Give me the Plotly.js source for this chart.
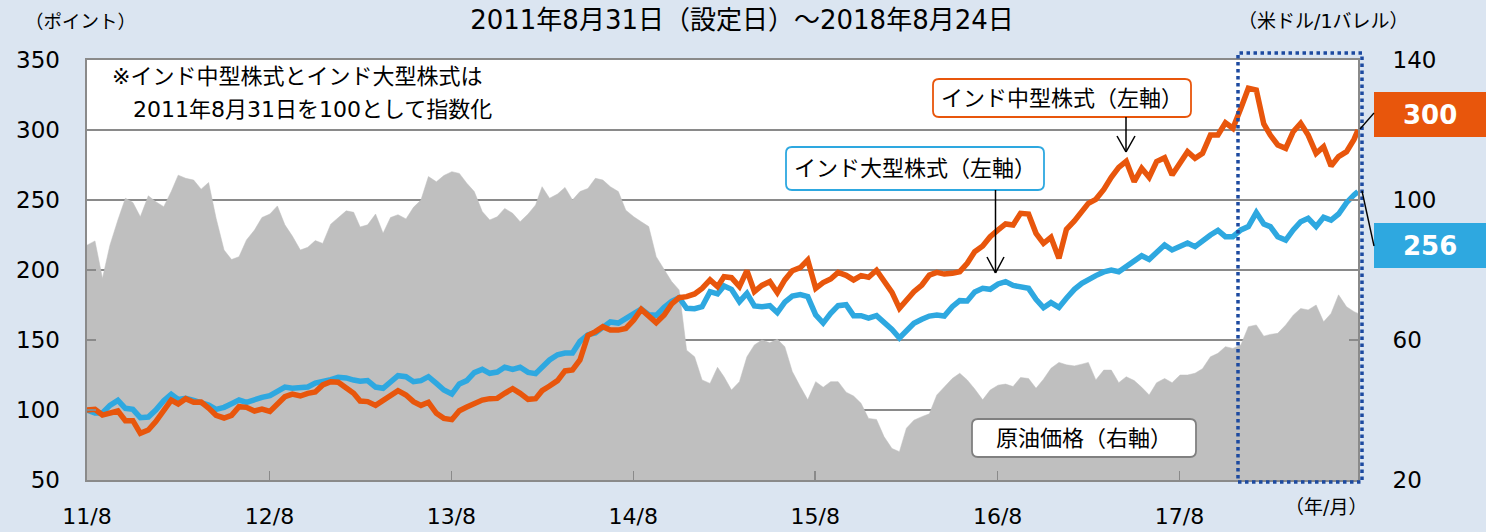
<!DOCTYPE html>
<html>
<head>
<meta charset="utf-8">
<script src="https://cdn.plot.ly/plotly-3.0.1.min.js"></script>
<style>html,body{margin:0;padding:0;background:#dbe5f1;}#chart{width:1486px;height:532px;}</style>
</head>
<body>
<div id="chart"></div>
<script>
// Semi-monthly observation dates (x categories)
const dates = [
"2011-08-31","2011-09-16","2011-10-01","2011-10-16","2011-11-01","2011-11-16","2011-12-01","2011-12-16",
"2012-01-01","2012-01-16","2012-02-01","2012-02-16","2012-03-01","2012-03-16","2012-04-01","2012-04-16","2012-05-01","2012-05-16","2012-06-01","2012-06-16","2012-07-01","2012-07-16","2012-08-01","2012-08-16","2012-09-01","2012-09-16","2012-10-01","2012-10-16","2012-11-01","2012-11-16","2012-12-01","2012-12-16",
"2013-01-01","2013-01-16","2013-02-01","2013-02-16","2013-03-01","2013-03-16","2013-04-01","2013-04-16","2013-05-01","2013-05-16","2013-06-01","2013-06-16","2013-07-01","2013-07-16","2013-08-01","2013-08-16","2013-09-01","2013-09-16","2013-10-01","2013-10-16","2013-11-01","2013-11-16","2013-12-01","2013-12-16",
"2014-01-01","2014-01-16","2014-02-01","2014-02-16","2014-03-01","2014-03-16","2014-04-01","2014-04-16","2014-05-01","2014-05-16","2014-06-01","2014-06-16","2014-07-01","2014-07-16","2014-08-01","2014-08-16","2014-09-01","2014-09-16","2014-10-01","2014-10-16","2014-11-01","2014-11-16","2014-12-01","2014-12-16",
"2015-01-01","2015-01-16","2015-02-01","2015-02-16","2015-03-01","2015-03-16","2015-04-01","2015-04-16","2015-05-01","2015-05-16","2015-06-01","2015-06-16","2015-07-01","2015-07-16","2015-08-01","2015-08-16","2015-09-01","2015-09-16","2015-10-01","2015-10-16","2015-11-01","2015-11-16","2015-12-01","2015-12-16",
"2016-01-01","2016-01-16","2016-02-01","2016-02-16","2016-03-01","2016-03-16","2016-04-01","2016-04-16","2016-05-01","2016-05-16","2016-06-01","2016-06-16","2016-07-01","2016-07-16","2016-08-01","2016-08-16","2016-09-01","2016-09-16","2016-10-01","2016-10-16","2016-11-01","2016-11-16","2016-12-01","2016-12-16",
"2017-01-01","2017-01-16","2017-02-01","2017-02-16","2017-03-01","2017-03-16","2017-04-01","2017-04-16","2017-05-01","2017-05-16","2017-06-01","2017-06-16","2017-07-01","2017-07-16","2017-08-01","2017-08-16","2017-09-01","2017-09-16","2017-10-01","2017-10-16","2017-11-01","2017-11-16","2017-12-01","2017-12-16",
"2018-01-01","2018-01-16","2018-02-01","2018-02-16","2018-03-01","2018-03-16","2018-04-01","2018-04-16","2018-05-01","2018-05-16","2018-06-01","2018-06-16","2018-07-01","2018-07-16","2018-08-01","2018-08-16","2018-08-24"
];

// インド中型株式 (index, left axis)
const midCap = [
100,100.5,96.4,97.4,99.3,92.4,92.4,83.3,85.7,91.7,99.5,107.1,104.3,108.1,105.5,105.7,101.4,96.2,94.3,96.2,
102.4,101.9,99.3,100.7,99.0,104.3,109.5,111.4,110.0,111.9,112.9,117.9,120.2,119.8,116.0,111.9,106.4,106.0,103.3,106.7,
110.7,113.8,110.7,106.0,103.3,105.5,97.6,94.0,93.1,99.5,102.1,105.0,107.1,108.1,108.3,111.9,115.2,111.9,107.6,108.1,
113.8,117.1,121.0,127.9,128.6,135.7,153.3,156.0,159.5,157.1,157.1,158.3,164.3,171.9,166.7,162.4,167.9,175.7,180.2,181.0,
182.9,186.9,192.9,188.1,195.2,194.5,188.1,199.5,184.5,189.0,191.7,183.8,192.9,199.5,201.7,207.1,186.9,191.0,193.6,198.3,
196.2,192.9,196.0,194.8,199.8,192.9,184.0,172.6,178.6,184.5,189.3,196.4,198.3,197.1,197.6,198.8,204.8,213.1,217.1,223.8,
228.6,232.9,232.1,240.5,240.0,226.2,219.0,223.3,208.3,229.0,235.0,241.7,247.6,250.5,257.6,266.2,273.3,277.6,263.1,272.6,
266.2,277.4,280.2,267.9,277.4,284.5,279.8,283.3,296.4,296.4,305.2,301.2,315.5,329.8,328.6,304.3,296.4,289.3,286.9,298.8,
304.8,296.4,283.3,288.1,274.3,281.0,284.5,293.3,300.0
];

// インド大型株式 (index, left axis)
const largeCap = [
100,97.9,97.9,103.3,106.9,101.2,100.5,94.5,95.0,100.0,106.7,111.2,107.6,108.3,106.9,105.5,103.6,100.5,101.9,104.5,
107.1,105.5,107.6,109.0,110.2,113.8,116.4,115.5,115.5,116.4,119.3,120.2,121.7,123.3,122.9,121.4,120.5,121.0,116.4,115.5,
119.8,124.5,123.8,120.2,121.0,123.8,119.0,114.3,111.4,118.6,121.0,126.7,129.0,126.2,127.1,130.5,129.0,130.5,126.9,126.0,
130.5,135.7,139.5,140.7,140.7,149.0,153.8,155.0,159.0,162.9,162.1,165.2,169.0,172.1,168.1,167.6,173.3,177.6,180.2,172.6,
172.4,173.8,184.5,182.9,188.6,186.2,177.4,183.3,174.3,173.8,174.5,169.5,177.1,181.4,182.4,181.0,167.9,162.1,169.0,174.5,
175.2,167.4,167.4,165.7,167.4,163.1,157.6,151.4,155.9,161.9,164.8,167.1,167.9,167.1,173.8,178.1,177.9,184.3,186.9,186.2,
190.0,191.7,189.0,188.1,186.9,179.0,173.1,176.7,173.3,179.8,186.2,190.5,193.6,196.0,198.6,200.0,198.8,202.9,207.1,210.2,
207.6,213.1,217.9,214.3,216.7,219.3,216.7,221.0,225.0,228.3,223.8,223.8,228.6,231.0,241.0,232.9,231.0,223.8,221.4,228.6,
234.5,236.9,231.0,237.6,235.7,240.0,248.1,253.6,256.0
];

// 原油価格 (US$/barrel, right axis)
const oil = [
87.1,88.3,77.6,87.1,94.3,100.5,99.3,95.2,101.2,99.5,98.1,102.4,107.1,106.2,105.7,103.1,105.0,94.8,85.7,83.0,
83.8,88.6,91.4,95.0,96.0,98.3,92.9,89.7,85.7,86.5,88.4,87.6,93.1,95.0,96.9,96.5,92.3,92.9,96.0,90.5,
95.0,95.8,94.6,97.9,100.0,106.7,105.2,107.0,108.1,107.6,104.8,102.4,96.7,94.3,95.2,97.6,96.2,93.8,96.0,98.6,
103.8,100.5,101.7,103.6,100.0,102.4,103.3,106.2,105.7,103.8,102.4,97.1,95.2,93.8,92.4,83.8,80.0,76.7,74.3,57.1,
55.2,48.6,47.6,52.2,49.5,45.7,48.1,55.2,58.6,60.0,59.2,60.2,58.1,51.0,46.7,42.9,48.1,46.5,48.1,48.1,
45.1,44.0,41.9,37.6,37.3,32.4,29.0,28.1,34.8,37.1,38.1,38.9,44.3,46.7,49.0,50.5,48.6,46.0,42.9,45.7,
47.1,47.4,46.7,49.3,49.0,46.2,48.8,51.9,53.6,52.9,52.6,53.1,53.6,48.6,51.4,51.4,47.8,49.5,48.4,46.5,
44.3,47.8,49.0,47.8,50.0,50.0,50.5,51.8,55.2,56.2,58.1,57.6,58.6,63.8,64.3,61.1,61.6,61.9,64.3,67.1,
69.0,68.6,70.0,65.2,67.6,72.9,69.5,68.1,67.6
];

const xTickVals = ["2011-08-31","2012-08-31","2013-08-31","2014-08-31","2015-08-31","2016-08-31","2017-08-31"];
const xTickText = ["11/8","12/8","13/8","14/8","15/8","16/8","17/8"];
const leftTicks = [50,100,150,200,250,300,350];
const rightTicks = [20,60,100,140];
const lastMid = "300";
const lastLarge = "256";

const FONT = "DejaVu Sans, Noto Sans CJK JP, sans-serif";
const ORANGE = "#e8560c", BLUE = "#2ea8e0", GREY = "#bfbfbf", AXIS = "#8a8a8a";

// pixel -> paper helpers for decorations (plot area 87..1358 x 60..480)
const L = 87, R = 1358, T = 60, B = 480;
const px = x => (x - L) / (R - L);
const py = y => (B - y) / (B - T);

function roundRect(x0, y0, x1, y1, r) {
  const P = (x, y) => px(x).toFixed(5) + "," + py(y).toFixed(5);
  return "M" + P(x0 + r, y0) + " L" + P(x1 - r, y0) + " Q" + P(x1, y0) + " " + P(x1, y0 + r) +
    " L" + P(x1, y1 - r) + " Q" + P(x1, y1) + " " + P(x1 - r, y1) +
    " L" + P(x0 + r, y1) + " Q" + P(x0, y1) + " " + P(x0, y1 - r) +
    " L" + P(x0, y0 + r) + " Q" + P(x0, y0) + " " + P(x0 + r, y0) + " Z";
}
function seg(x0, y0, x1, y1, color, w) {
  return {type: "line", xref: "paper", yref: "paper", x0: px(x0), y0: py(y0), x1: px(x1), y1: py(y1),
    line: {color: color, width: w}, layer: "above"};
}
function txt(text, x, y, size, opts) {
  return Object.assign({text: text, xref: "paper", yref: "paper", x: px(x), y: py(y), showarrow: false,
    font: {family: FONT, size: size, color: "#000"}, xanchor: "center", yanchor: "middle"}, opts || {});
}

// base subplot (y) = oil on the right; overlay (y2) = indices on the left, drawn above the area
const traces = [
  {x: dates, y: oil, yaxis: "y", type: "scatter", mode: "lines", fill: "tozeroy",
   fillcolor: GREY, line: {color: GREY, width: 0.5}, name: "原油価格"},
  {x: dates, y: largeCap, yaxis: "y2", type: "scatter", mode: "lines", line: {color: BLUE, width: 5.5}, name: "インド大型株式"},
  {x: dates, y: midCap, yaxis: "y2", type: "scatter", mode: "lines", line: {color: ORANGE, width: 5.5}, name: "インド中型株式"}
];

const shapes = [
  {type: "path", xref: "paper", yref: "paper", path: roundRect(933, 79, 1191, 117, 6), fillcolor: "#fff", line: {color: ORANGE, width: 1.8}, layer: "above"},
  {type: "path", xref: "paper", yref: "paper", path: roundRect(786, 147, 1044, 190, 6), fillcolor: "#fff", line: {color: BLUE, width: 1.8}, layer: "above"},
  {type: "path", xref: "paper", yref: "paper", path: roundRect(972, 419, 1196, 457, 6), fillcolor: "#fff", line: {color: "#808080", width: 1.8}, layer: "above"},
  seg(1126, 117, 1126, 152, "#000", 1.5),
  seg(1117, 136, 1126, 152, "#000", 1.5),
  seg(1135, 136, 1126, 152, "#000", 1.5),
  seg(995.5, 190, 995.5, 273, "#000", 1.5),
  seg(987, 257, 995.5, 273, "#000", 1.5),
  seg(1004, 257, 995.5, 273, "#000", 1.5),
  {type: "rect", xref: "paper", yref: "paper", x0: px(1238), x1: px(1362), y0: py(482), y1: py(53),
   line: {color: "#1d4aa0", width: 3.5, dash: "dot"}, fillcolor: "rgba(0,0,0,0)", layer: "above"},
  {type: "rect", xref: "paper", yref: "paper", x0: px(1374), x1: px(1486), y0: py(137), y1: py(92), fillcolor: ORANGE, line: {width: 0}, layer: "above"},
  {type: "rect", xref: "paper", yref: "paper", x0: px(1374), x1: px(1486), y0: py(268), y1: py(223), fillcolor: BLUE, line: {width: 0}, layer: "above"},
  seg(1360, 129, 1374, 113, "#000", 1.4),
  seg(1362, 191, 1374, 246, "#000", 1.4)
];

const annotations = [
  txt("（ポイント）", 80, 21, 18.5),
  txt("（米ドル/1バレル）", 1323, 21, 19),
  txt("（年/月）", 1326, 507, 19),
  txt("※インド中型株式とインド大型株式は", 110, 77, 22, {xanchor: "left"}),
  txt("2011年8月31日を100として指数化", 131, 109, 22, {xanchor: "left"}),
  txt("インド中型株式（左軸）", 1062, 98, 22),
  txt("インド大型株式（左軸）", 915, 168.5, 22),
  txt("原油価格（右軸）", 1084, 438, 22),
  txt("<b>" + lastMid + "</b>", 1430, 115, 26, {font: {family: FONT, size: 26, color: "#fff"}}),
  txt("<b>" + lastLarge + "</b>", 1430, 246, 26, {font: {family: FONT, size: 26, color: "#fff"}})
];

const layout = {
  width: 1486, height: 532,
  margin: {l: L, r: 1486 - R, t: T, b: 532 - B, pad: 0},
  paper_bgcolor: "#dbe5f1", plot_bgcolor: "#ffffff",
  showlegend: false,
  font: {family: FONT, color: "#000"},
  title: {text: "2011年8月31日（設定日）～2018年8月24日", x: 742 / 1486, xref: "container", y: 1 - 20 / 532, yref: "container",
          xanchor: "center", yanchor: "middle", font: {family: FONT, size: 26, color: "#000"}},
  xaxis: {type: "date", range: ["2011-08-31", "2018-08-24"], tickmode: "array", tickvals: xTickVals, ticktext: xTickText,
          ticks: "inside", ticklen: 9, tickwidth: 1.5, tickcolor: AXIS, showgrid: false, zeroline: false,
          showline: true, linecolor: AXIS, linewidth: 2, mirror: true, tickfont: {family: FONT, size: 22, color: "#000"},
          ticklabelstandoff: 16},
  yaxis: {range: [20, 140], tickmode: "array", tickvals: rightTicks, side: "right", ticks: "inside", ticklen: 9,
          tickwidth: 1.5, tickcolor: AXIS, showgrid: false, zeroline: false, showline: true, linecolor: AXIS, linewidth: 2, mirror: true,
          tickfont: {family: FONT, size: 23, color: "#000"}, ticklabelstandoff: 28},
  yaxis2: {range: [50, 350], tickmode: "array", tickvals: leftTicks, overlaying: "y", side: "left", ticks: "inside", ticklen: 9,
           tickwidth: 1.5, tickcolor: AXIS, showgrid: true, gridcolor: AXIS, gridwidth: 2, zeroline: false, showline: false,
           tickfont: {family: FONT, size: 23, color: "#000"}, ticklabelstandoff: 26},
  shapes: shapes,
  annotations: annotations
};

Plotly.newPlot("chart", traces, layout, {staticPlot: true, displayModeBar: false});
</script>
</body>
</html>
